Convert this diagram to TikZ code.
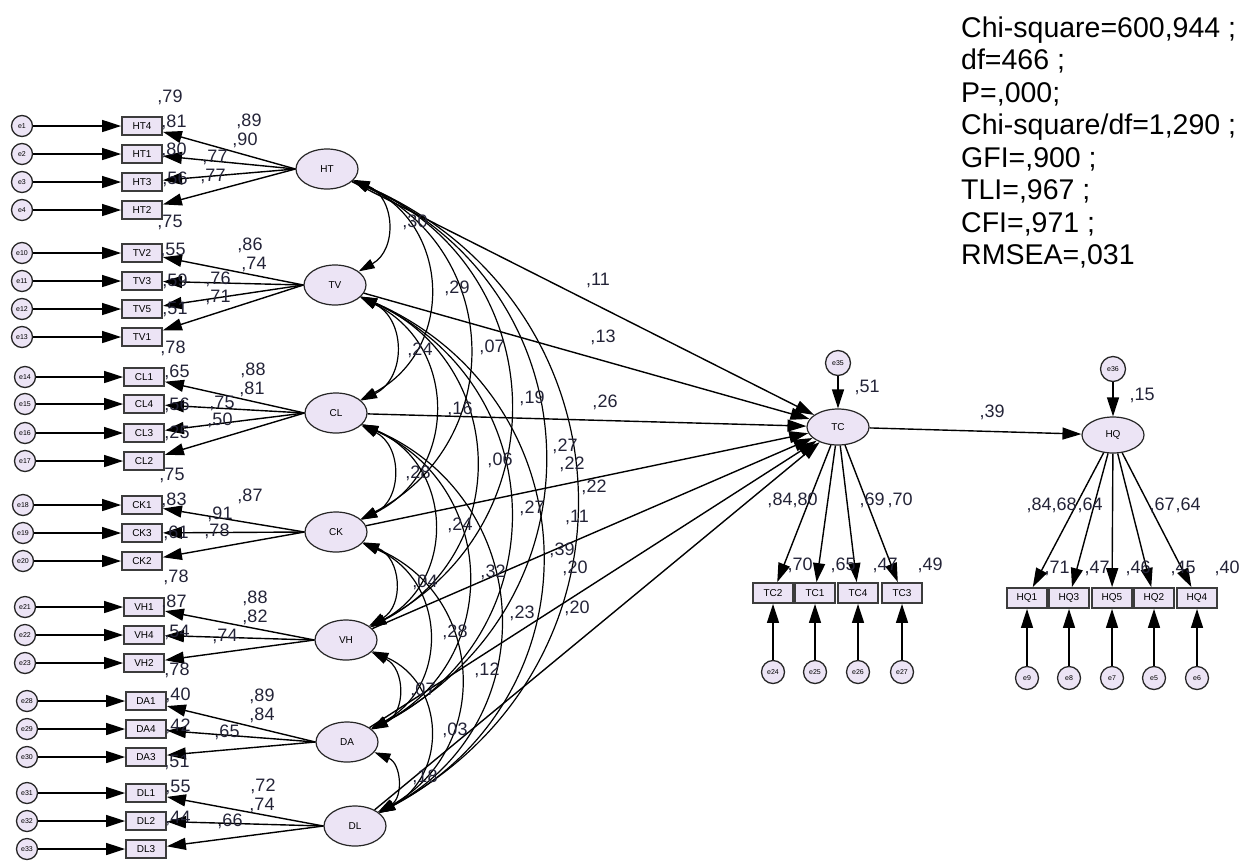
\documentclass[tikz,border=0pt]{standalone}
\usepackage{fontspec}
\setmainfont{Liberation Sans}
\usetikzlibrary{arrows.meta,shapes.geometric}
\definecolor{lav}{RGB}{236,228,245}
\definecolor{boxedge}{RGB}{60,60,60}
\definecolor{lbl}{RGB}{35,35,55}
\tikzset{
  lat/.style={ellipse,draw=black!85,line width=1.2pt,fill=lav,minimum width=62pt,minimum height=40pt,inner sep=0pt,font=\fontsize{10}{10}\selectfont},
  obs/.style={rectangle,draw=boxedge,line width=1.8pt,fill=lav,minimum width=40pt,minimum height=18pt,inner sep=0pt,font=\fontsize{10}{10}\selectfont},
  err/.style={circle,draw=black!85,line width=1.3pt,fill=lav,minimum size=21pt,inner sep=0pt,font=\fontsize{7}{7}\selectfont},
  arr/.style={line width=1.4pt,-{Triangle[length=19pt,width=12pt]}},
  cov/.style={line width=1.2pt,{Triangle[length=16pt,width=10pt]}-{Triangle[length=16pt,width=10pt]},bend left=64,looseness=1.25},
  num/.style={font=\fontsize{18}{18}\selectfont,text=lbl,inner sep=0pt},
  stat/.style={font=\fontsize{28.5}{28.5}\selectfont,anchor=base west,inner sep=0pt},
}
\begin{document}
\begin{tikzpicture}[x=1pt,y=-1pt]
\useasboundingbox (0,0) rectangle (1244,860);

% latent variables
\node[lat] (HT) at (327,169) {HT};
\node[lat] (TV) at (335,285) {TV};
\node[lat] (CL) at (336,413) {CL};
\node[lat] (CK) at (336,532) {CK};
\node[lat] (VH) at (346,640) {VH};
\node[lat] (DA) at (347,742) {DA};
\node[lat] (DL) at (355,826) {DL};

% indicators and errors (left)
\foreach \b/\y/\bx/\ex/\e in {HT4/126/142/22/e1,HT1/154/142/22/e2,HT3/182/142/22/e3,HT2/210/142/22/e4,
  TV2/253/142/22/e10,TV3/281/142/22/e11,TV5/309/142/22/e12,TV1/337/142/22/e13,
  CL1/377/144/25/e14,CL4/404/144/25/e15,CL3/433/144/25/e16,CL2/461/144/25/e17,
  CK1/505/142/23/e18,CK3/533/142/23/e19,CK2/561/142/23/e20,
  VH1/607/144/25/e21,VH4/635/144/25/e22,VH2/663/144/25/e23,
  DA1/701/146/27/e28,DA4/729/146/27/e29,DA3/757/146/27/e30,
  DL1/793/146/27/e31,DL2/821/146/27/e32,DL3/849/146/27/e33}{
  \node[obs] (\b) at (\bx,\y) {\b};
  \node[err] (\e) at (\ex,\y) {\e};
  \draw[arr] (\e) -- (\b);
}
\foreach \l/\b in {HT/HT4,HT/HT1,HT/HT3,HT/HT2,TV/TV2,TV/TV3,TV/TV5,TV/TV1,
  CL/CL1,CL/CL4,CL/CL3,CL/CL2,CK/CK1,CK/CK3,CK/CK2,VH/VH1,VH/VH4,VH/VH2,
  DA/DA1,DA/DA4,DA/DA3,DL/DL1,DL/DL2,DL/DL3}{
  \draw[arr] (\l.west) -- (\b);
}

% covariances
\foreach \a/\c in {HT/TV,HT/CL,HT/CK,HT/VH,HT/DA,HT/DL,TV/CL,TV/CK,TV/VH,TV/DA,TV/DL,
  CL/CK,CL/VH,CL/DA,CL/DL,CK/VH,CK/DA,CK/DL,VH/DA,VH/DL,DA/DL}{
  \draw[cov] (\a) to (\c);
}

% TC block
\node[lat,minimum height=36pt] (TC) at (838,427) {TC};
\node[err,minimum size=25pt] (e35) at (838,363) {e35};
\draw[arr] (e35) -- (TC);
\foreach \l in {HT,TV,CL,CK,VH,DA,DL}{ \draw[arr] (\l) -- (TC); }
\foreach \b/\x/\e in {TC2/773/e24,TC1/815/e25,TC4/858/e26,TC3/902/e27}{
  \node[obs,minimum height=20pt] (\b) at (\x,593) {\b};
  \node[err,minimum size=23pt] (\e) at (\x,672) {\e};
  \draw[arr] (\e) -- (\b);
  \draw[arr] (TC) -- (\b);
}

% HQ block
\node[lat,minimum height=36pt] (HQ) at (1113,435) {HQ};
\node[err,minimum size=25pt] (e36) at (1113,369) {e36};
\draw[arr] (e36) -- (HQ);
\draw[arr] (TC) -- (HQ);
\foreach \b/\x/\e in {HQ1/1027/e9,HQ3/1069/e8,HQ5/1112/e7,HQ2/1154/e5,HQ4/1197/e6}{
  \node[obs,minimum height=20pt] (\b) at (\x,598) {\b};
  \node[err,minimum size=23pt] (\e) at (\x,678) {\e};
  \draw[arr] (\e) -- (\b);
  \draw[arr] (HQ) -- (\b);
}

% estimates near indicators
\foreach \t/\x/\y [count=\k] in {{,79}/170/97,{,81}/174/122,{,80}/174/150,{,56}/175/179,{,75}/170/222,{,89}/249/121,{,90}/245/140,{,77}/215/157,{,77}/213/176,
  {,55}/173/250,{,86}/250/245,{,74}/254/264,{,76}/218/279,{,59}/175/281,{,71}/218/297,{,51}/175/309,{,78}/173/348,
  {,65}/177/372,{,88}/253/370,{,81}/252/389,{,75}/222/403,{,56}/177/405,{,50}/220/420,{,25}/177/433,{,75}/172/475,
  {,83}/174/500,{,87}/250/496,{,91}/220/514,{,78}/217/531,{,61}/176/533,{,78}/176/577,
  {,87}/174/602,{,88}/255/598,{,82}/255/617,{,54}/177/632,{,74}/225/636,{,78}/177/670,
  {,40}/178/695,{,89}/262/696,{,84}/262/715,{,65}/227/732,{,42}/178/726,{,51}/177/762,
  {,55}/178/787,{,72}/263/786,{,74}/262/805,{,66}/230/821,{,44}/178/818}{
  \node[num] (ld\k) at (\x,\y) {\t};
}
% covariance and path estimates
\foreach \t/\x/\y [count=\k] in {{,30}/415/222,{,29}/457/288,{,24}/420/350,{,07}/492/347,{,16}/460/409,{,19}/532/398,
  {,11}/598/280,{,13}/603/337,{,26}/605/402,{,28}/418/473,{,06}/500/460,{,27}/565/446,{,22}/572/464,{,22}/594/487,
  {,27}/532/508,{,24}/460/525,{,11}/577/517,{,39}/562/550,{,20}/575/568,{,04}/425/582,{,32}/493/572,{,23}/522/613,
  {,20}/577/608,{,28}/455/632,{,12}/487/670,{,07}/423/690,{,03}/455/730,{,18}/425/777}{
  \node[num] (cv\k) at (\x,\y) {\t};
}
\foreach \t/\x/\y [count=\k] in {{,51}/867/387,{,39}/992/412,{,84}/780/500,{,80}/805/500,{,69}/872/500,{,70}/900/500,
  {,70}/800/565,{,65}/843/565,{,47}/885/565,{,49}/930/565,
  {,15}/1142/395,{,84}/1039/505,{,68}/1064/505,{,64}/1090/505,{,67}/1162/505,{,64}/1188/505,
  {,71}/1057/568,{,47}/1097/568,{,46}/1138/568,{,45}/1183/568,{,40}/1227/568}{
  \node[num] (rt\k) at (\x,\y) {\t};
}

% fit statistics
\node[stat] (s1) at (961,37) {Chi-square=600,944 ;};
\node[stat] (s2) at (961,69.5) {df=466 ;};
\node[stat] (s3) at (961,102) {P=,000;};
\node[stat] (s4) at (961,134.5) {Chi-square/df=1,290 ;};
\node[stat] (s5) at (961,167) {GFI=,900 ;};
\node[stat] (s6) at (961,199.5) {TLI=,967 ;};
\node[stat] (s7) at (961,232) {CFI=,971 ;};
\node[stat] (s8) at (961,264.5) {RMSEA=,031};
\end{tikzpicture}
\end{document}
